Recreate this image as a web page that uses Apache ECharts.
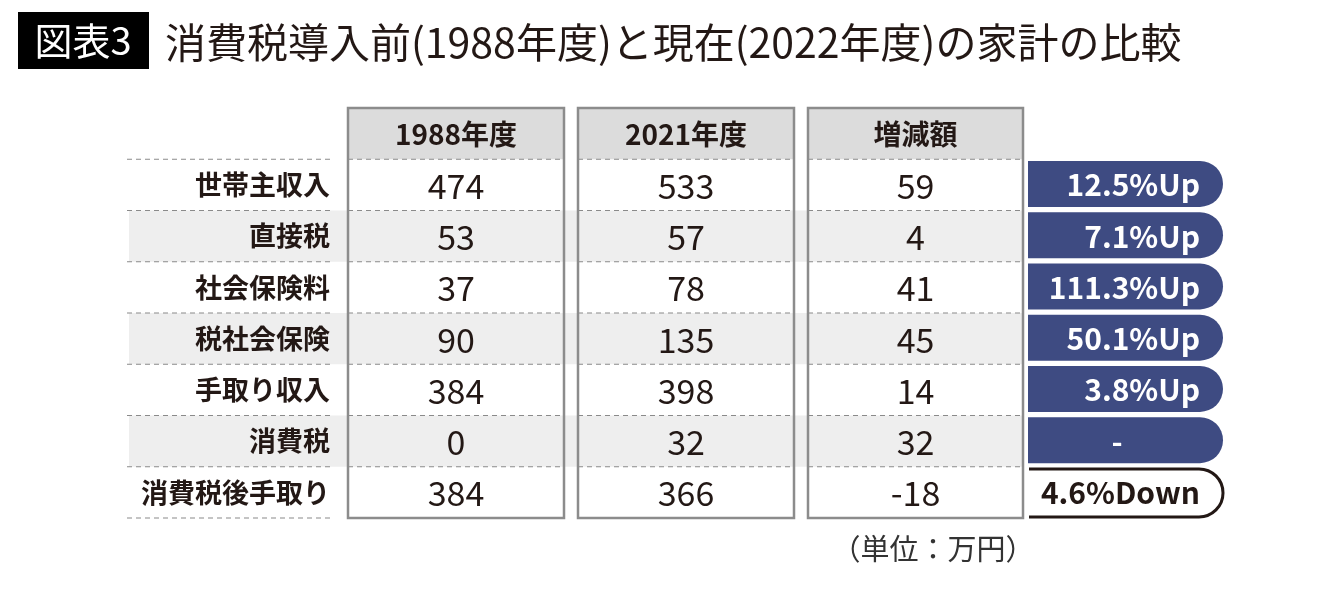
<!DOCTYPE html>
<html><head><meta charset="utf-8">
<script src="https://cdn.jsdelivr.net/npm/echarts@6/dist/echarts.min.js"></script>
<style>html,body{margin:0;padding:0;background:#fff}#c{width:1340px;height:600px}</style>
</head><body><div id="c"></div>
<script>
// ---- data ----
const rowLabels = ['世帯主収入','直接税','社会保険料','税社会保険','手取り収入','消費税','消費税後手取り'];
const values1988 = [474,53,37,90,384,0,384];
const values2021 = [533,57,78,135,398,32,366];
const changeAmount = [59,4,41,45,14,32,-18];
const changeRate = ['12.5%Up','7.1%Up','111.3%Up','50.1%Up','3.8%Up','-','4.6%Down'];
const columnHeaders = ['1988年度','2021年度','増減額'];
const figureLabel = '図表3';
const titleText = '消費税導入前(1988年度)と現在(2022年度)の家計の比較';
const unitNote = '（単位：万円）';

// ---- style / layout ----
const FONT = '"Noto Sans CJK JP", "Noto Sans", sans-serif';
const INK = '#231815';
const NAVY = '#3e4b82';
const GRAYLINE = '#8c8c8c';
const LABEL_L = 127, LABEL_R = 333;
const COLS = [[348,564],[578,794],[808,1023]];
const BADGE_L = 1028, BADGE_R = 1223;
const columnValues = [values1988, values2021, changeAmount];
const yCats = ['header'].concat(rowLabels);

function dash(x1, x2, y) {
  return {type:'line', shape:{x1:x1, y1:y, x2:x2, y2:y},
    style:{stroke:'#8a8a8a', lineWidth:1.2, lineDash:[5,4]}};
}

function renderRow(params, api) {
  const k = api.value(1);
  const i = k - 1;
  const cy = api.coord([0, k])[1];
  const h = api.size([0, 1])[1];
  const top = cy - h / 2, bottom = cy + h / 2;
  const ch = [];
  if (i % 2 === 1) {
    ch.push({type:'rect', shape:{x:129, y:top, width:1023 - 129, height:h}, style:{fill:'#eeeeee'}});
  }
  ch.push(dash(LABEL_L, LABEL_R, top));
  if (i === rowLabels.length - 1) ch.push(dash(LABEL_L, LABEL_R, bottom));
  COLS.forEach(function (c) { if (i > 0) ch.push(dash(c[0], c[1], top)); });
  ch.push({type:'text', style:{text:rowLabels[i], x:330, y:cy, textAlign:'right', textVerticalAlign:'middle',
    font:'bold 27px ' + FONT, fill:INK}});
  COLS.forEach(function (c, j) {
    ch.push({type:'text', style:{text:String(columnValues[j][i]), x:(c[0] + c[1]) / 2, y:cy + 1,
      textAlign:'center', textVerticalAlign:'middle', font:'34px ' + FONT, fill:INK}});
  });
  const bt = cy - 24, bh = 46;
  const outlined = changeAmount[i] < 0;
  if (outlined) {
    const t = cy - 23.5, b = cy + 24.5, r = (b - t) / 2;
    ch.push({type:'path', shape:{pathData:'M' + (BADGE_L + 1) + ' ' + t + ' L' + (BADGE_R - r) + ' ' + t +
      ' A' + r + ' ' + r + ' 0 0 1 ' + (BADGE_R - r) + ' ' + b + ' L' + (BADGE_L + 1) + ' ' + b},
      style:{fill:'#fff', stroke:INK, lineWidth:3}});
  } else {
    ch.push({type:'rect', shape:{x:BADGE_L, y:bt, width:BADGE_R - BADGE_L, height:bh, r:[0, 23, 23, 0]},
      style:{fill:NAVY}});
  }
  const isDash = changeRate[i] === '-';
  ch.push({type:'text', style:{text:changeRate[i], x:isDash ? 1117 : 1200, y:cy,
    textAlign:isDash ? 'center' : 'right', textVerticalAlign:'middle',
    font:'bold 30px ' + FONT, fill:outlined ? INK : '#ffffff'}});
  return {type:'group', children:ch};
}

function renderFrame(params, api) {
  const h = api.size([0, 1])[1];
  const hc = api.coord([0, 0])[1];
  const top = hc - h / 2;
  const bottom = api.coord([0, rowLabels.length])[1] + h / 2;
  const ch = [];
  COLS.forEach(function (c, j) {
    ch.push({type:'rect', shape:{x:c[0], y:top, width:c[1] - c[0], height:h}, style:{fill:'#dcdcdc'}});
    ch.push({type:'text', style:{text:columnHeaders[j], x:(c[0] + c[1]) / 2, y:hc + 1, textAlign:'center',
      textVerticalAlign:'middle', font:'bold 28px ' + FONT, fill:INK}});
    ch.push(dash(c[0], c[1], top + h));
    ch.push({type:'rect', shape:{x:c[0], y:top, width:c[1] - c[0], height:bottom - top},
      style:{fill:'none', stroke:GRAYLINE, lineWidth:2.5}});
  });
  return {type:'group', children:ch};
}

const chart = echarts.init(document.getElementById('c'), null, {renderer:'canvas'});
chart.setOption({
  animation:false,
  backgroundColor:'#ffffff',
  grid:{left:0, right:0, top:108, height:410},
  xAxis:{type:'value', min:0, max:1340, show:false},
  yAxis:{type:'category', data:yCats, inverse:true, show:false},
  graphic:[
    {type:'rect', shape:{x:18, y:12, width:131, height:57}, style:{fill:'#000'}},
    {type:'text', style:{text:figureLabel, x:83, y:41, textAlign:'center', textVerticalAlign:'middle',
      font:'38px ' + FONT, fill:'#fff'}},
    {type:'text', style:{text:titleText, x:165, y:42, textAlign:'left', textVerticalAlign:'middle',
      font:'41px ' + FONT, fill:INK}},
    {type:'text', style:{text:unitNote, x:933, y:549, textAlign:'center', textVerticalAlign:'middle',
      font:'29px ' + FONT, fill:'#333'}}
  ],
  series:[
    {type:'custom', z:2, renderItem:renderRow, data:rowLabels.map(function (l, i) { return [0, i + 1]; })},
    {type:'custom', z:3, renderItem:renderFrame, data:[[0, 0]]}
  ]
});
</script></body></html>
